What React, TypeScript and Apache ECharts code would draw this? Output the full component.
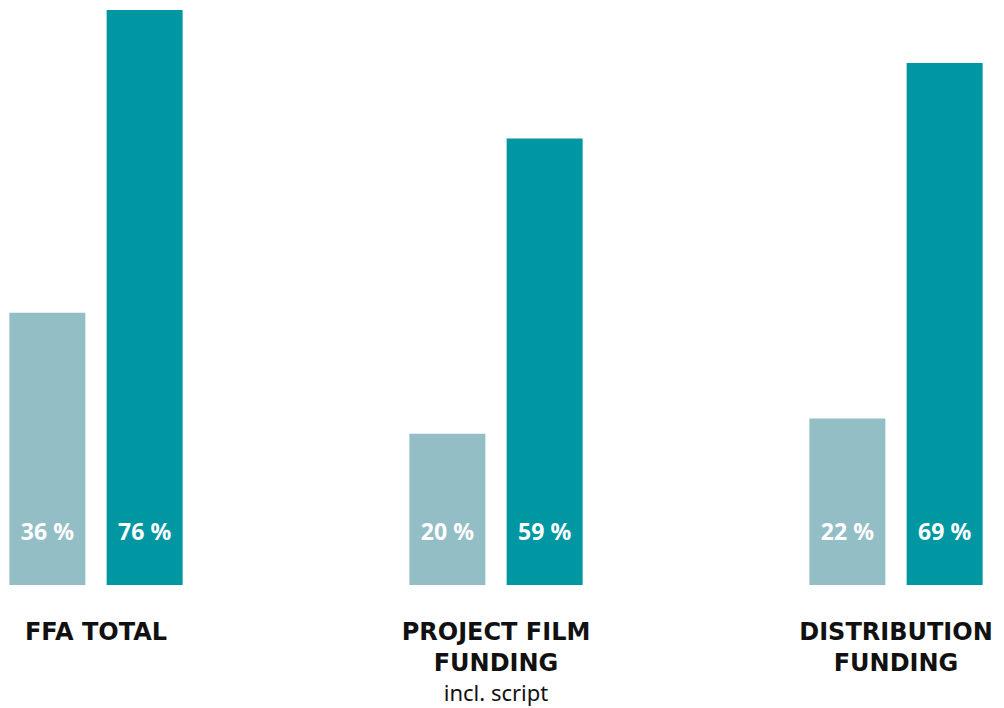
import React, { useEffect, useRef } from "react";
import * as echarts from "echarts";

const categories = ["FFA TOTAL", "PROJECT FILM\nFUNDING", "DISTRIBUTION\nFUNDING"];
const subtitles = ["", "incl. script", ""];
const seriesLight = [36, 20, 22];
const seriesDark = [76, 59, 69];

export default function App() {
  const ref = useRef<HTMLDivElement>(null);
  useEffect(() => {
    const chart = echarts.init(ref.current!, null, { renderer: "svg" });
    const valueLabel = {
      show: true,
      position: "insideBottom",
      distance: 43,
      color: "#ffffff",
      fontFamily: "Noto Sans",
      fontWeight: "bold",
      fontSize: 23,
      formatter: (p: any) => `${p.value} %`,
    };
    chart.setOption({
      animation: false,
      grid: { top: 10, bottom: 123, left: 96, right: 108, containLabel: false },
      xAxis: {
        type: "category",
        data: categories,
        boundaryGap: false,
        axisLine: { show: false },
        axisTick: { show: false },
        axisLabel: {
          margin: 31,
          interval: 0,
          formatter: (v: string, i: number) => {
            const lines = v.split("\n").map((l) => `{b|${l}}`);
            if (subtitles[i]) lines.push(`{s|${subtitles[i]}}`);
            return lines.join("\n");
          },
          rich: {
            b: {
              fontFamily: "DejaVu Sans",
              fontWeight: "bold",
              fontSize: 24,
              color: "#111111",
              lineHeight: 31,
            },
            s: {
              fontFamily: "Noto Sans",
              fontSize: 22,
              color: "#111111",
              lineHeight: 28,
            },
          },
        },
      },
      yAxis: {
        type: "value",
        min: 0,
        max: 76,
        show: false,
        splitLine: { show: false },
      },
      series: [
        {
          type: "bar",
          data: seriesLight,
          barWidth: 76,
          barGap: "28%",
          clip: false,
          itemStyle: { color: "#93bec6" },
          label: valueLabel,
        },
        {
          type: "bar",
          data: seriesDark,
          barWidth: 76,
          clip: false,
          itemStyle: { color: "#0097a3" },
          label: valueLabel,
        },
      ],
    });
    return () => chart.dispose();
  }, []);
  return <div ref={ref} style={{ width: 1004, height: 708, position: "absolute", left: 0, top: 0 }} />;
}
